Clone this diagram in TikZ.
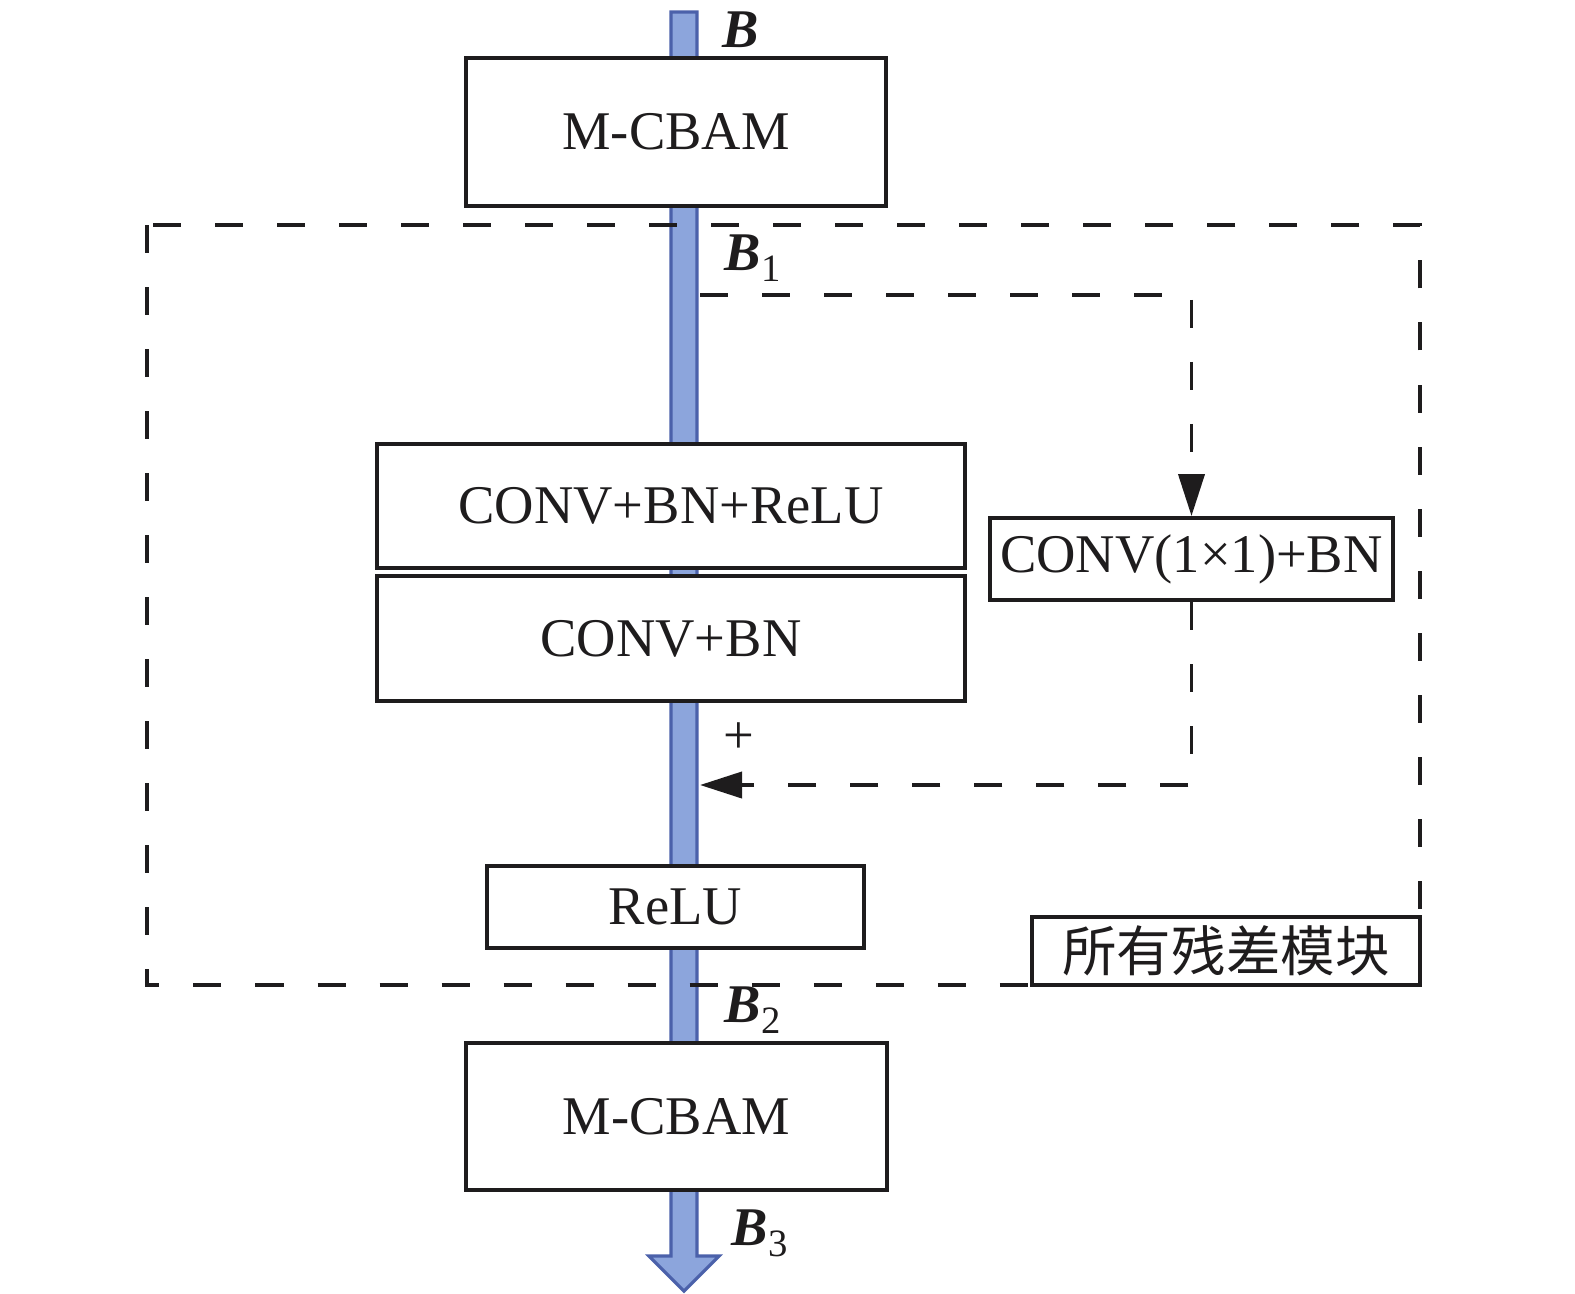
\documentclass[tikz,border=0pt]{standalone}
\usepackage{fontspec}
\setmainfont{Liberation Serif}
\newfontfamily\cjk{Noto Sans CJK SC}
\usetikzlibrary{arrows.meta}
\definecolor{barFill}{HTML}{8CA5DC}
\definecolor{barEdge}{HTML}{4B61AA}
\definecolor{ink}{HTML}{1E1C1D}
\begin{document}
\begin{tikzpicture}[x=0.01cm,y=-0.01cm,
  box/.style={draw=ink, line width=1.1pt, fill=white, inner sep=0pt, text=ink,
    font=\fontsize{15.5}{18}\selectfont},
  dsh/.style={draw=ink, line width=1.1pt, dash pattern=on 0.28cm off 0.34cm},
  lab/.style={font=\fontsize{15.5}{18}\selectfont, inner sep=0pt, text=ink},
  tip/.style={-{Triangle[length=0.42cm,width=0.26cm]}}]
\useasboundingbox (0,0) rectangle (1575,1293);
% main data path (blue arrow)
\draw[line width=0.9pt, draw=barEdge, fill=barFill]
  (671,12) -- (697,12) -- (697,1256) -- (719,1256) -- (684,1291)
  -- (649,1256) -- (671,1256) -- cycle;
% outer dashed frame
\draw[dsh] (147,225) rectangle (1420,985);
% boxes
\node[box, minimum width=4.2cm, minimum height=1.48cm] (m1) at (676,132) {M-CBAM};
\node[box, minimum width=5.88cm, minimum height=1.24cm] (cbr) at (671,506) {CONV+BN+ReLU};
\node[box, minimum width=5.88cm, minimum height=1.25cm] (cb) at (671,638.5) {CONV+BN};
\node[box, minimum width=4.03cm, minimum height=0.82cm] (c11) at (1191.5,559) {CONV(1×1)+BN};
\node[box, minimum width=3.77cm, minimum height=0.82cm] (relu) at (675.5,907) {ReLU};
\node[box, minimum width=4.21cm, minimum height=1.47cm] (m2) at (676.5,1116.5) {M-CBAM};
\node[box, minimum width=3.88cm, minimum height=0.68cm] (all) at (1226,951) {\cjk 所有残差模块};
% shortcut
\coordinate (s0) at (700,295);
\coordinate (s1) at (c11.north |- s0);
\draw[dsh, tip] (s0) -- (s1) -- (c11.north);
\coordinate (s2) at (700,785);
\coordinate (r1) at (c11.south |- s2);
\draw[dsh, tip] (c11.south) -- (r1) -- (s2);
% labels
\node[lab, anchor=west] (lB) at (722,30) {\textbf{\textit{B}}};
\node[lab, anchor=west] (lB1) at (724,258) {\textbf{\textit{B}}\raisebox{-0.45ex}{\fontsize{11}{12}\selectfont 1}};
\node[lab, anchor=west] (lB2) at (724,1010) {\textbf{\textit{B}}\raisebox{-0.45ex}{\fontsize{11}{12}\selectfont 2}};
\node[lab, anchor=west] (lB3) at (731,1233) {\textbf{\textit{B}}\raisebox{-0.45ex}{\fontsize{11}{12}\selectfont 3}};
\node[lab] (plus) at (739,738) {+};
\end{tikzpicture}
\end{document}
